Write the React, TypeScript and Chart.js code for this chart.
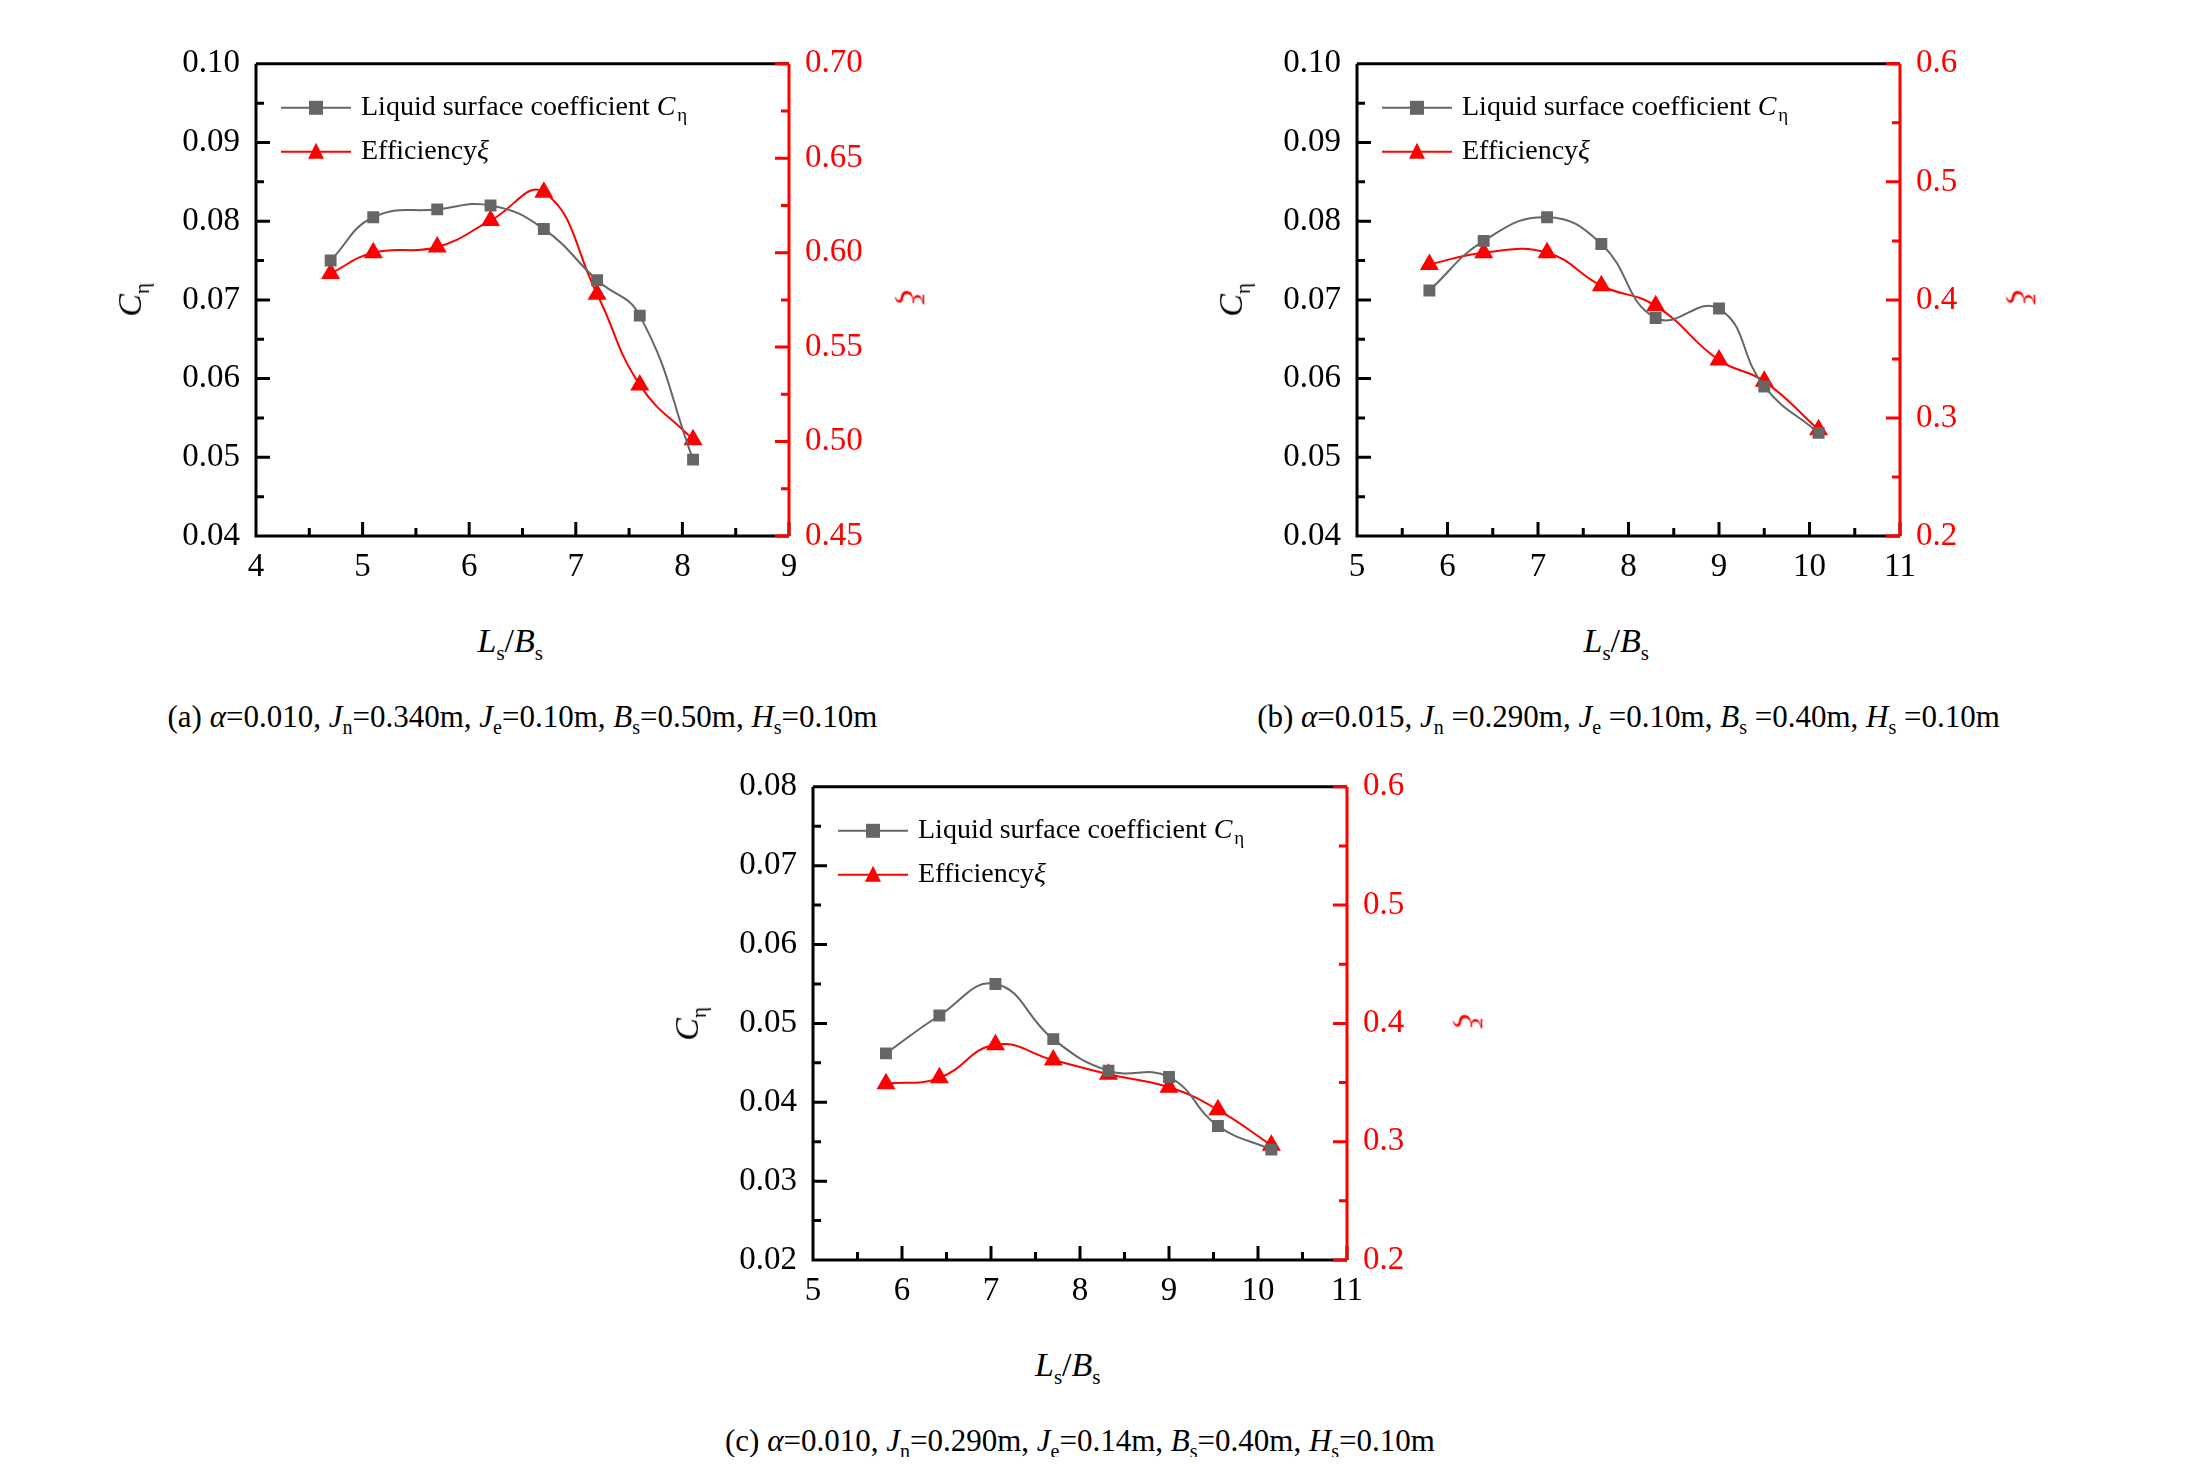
import React, { useEffect, useRef } from "react";
import { Chart, registerables } from "chart.js";
Chart.register(...registerables);

const xA = [4.7, 5.1, 5.7, 6.2, 6.7, 7.2, 7.6, 8.1];
const cA = [0.075, 0.0805, 0.0815, 0.082, 0.079, 0.0725, 0.068, 0.0497];
const eA = [0.589, 0.6, 0.603, 0.617, 0.632, 0.578, 0.53, 0.501];
const xB = [5.8, 6.4, 7.1, 7.7, 8.3, 9.0, 9.5, 10.1];
const cB = [0.0712, 0.0775, 0.0805, 0.0771, 0.0677, 0.0689, 0.059, 0.0531];
const eB = [0.43, 0.44, 0.44, 0.412, 0.395, 0.349, 0.331, 0.29];
const xC = [5.82, 6.42, 7.05, 7.7, 8.32, 9.0, 9.55, 10.15];
const cC = [0.0462, 0.051, 0.055, 0.048, 0.044, 0.0432, 0.037, 0.034];
const eC = [0.349, 0.354, 0.382, 0.369, 0.357, 0.346, 0.327, 0.297];

const FONT = "Liberation Serif";
const PADL = 130, PADR = 130, PADT = 24, PADB = 70;

type P = {
  x: number[]; c: number[]; e: number[];
  xr: [number, number]; cr: [number, number, number]; er: [number, number, number];
  left: number; top: number; w: number; h: number; cdec: number; edec: number;
};

const ticksPlugin = {
  id: "inticks",
  afterDraw(chart: any, _a: any, o: any) {
    const ctx = chart.ctx; const ca = chart.chartArea;
    const sx = chart.scales.x, sy = chart.scales.y, sy1 = chart.scales.y1;
    ctx.save();
    ctx.lineWidth = 3;
    ctx.strokeStyle = "#000";
    ctx.beginPath();
    ctx.moveTo(ca.left, ca.top); ctx.lineTo(ca.right, ca.top);
    ctx.moveTo(ca.left, ca.top); ctx.lineTo(ca.left, ca.bottom); ctx.lineTo(ca.right, ca.bottom);
    for (let v = o.xr[0]; v <= o.xr[1] + 1e-9; v += 0.5) {
      const px = sx.getPixelForValue(v);
      const L = Math.abs(v - Math.round(v)) < 1e-6 ? 14 : 8;
      ctx.moveTo(px, ca.bottom); ctx.lineTo(px, ca.bottom - L);
    }
    const cs = o.cr[2] / 2;
    for (let v = o.cr[0]; v <= o.cr[1] + 1e-9; v += cs) {
      const py = sy.getPixelForValue(v);
      const k = Math.round((v - o.cr[0]) / cs);
      const L = k % 2 === 0 ? 14 : 8;
      ctx.moveTo(ca.left, py); ctx.lineTo(ca.left + L, py);
    }
    ctx.stroke();
    ctx.strokeStyle = "#ff0000";
    ctx.beginPath();
    ctx.moveTo(ca.right, ca.top); ctx.lineTo(ca.right, ca.bottom);
    const es = o.er[2] / 2;
    for (let v = o.er[0]; v <= o.er[1] + 1e-9; v += es) {
      const py = sy1.getPixelForValue(v);
      const k = Math.round((v - o.er[0]) / es);
      const L = k % 2 === 0 ? 14 : 8;
      ctx.moveTo(ca.right, py); ctx.lineTo(ca.right - L, py);
    }
    ctx.stroke();
    const lx = ca.left + 25, ly1 = ca.top + 44, ly2 = ca.top + 88;
    ctx.lineWidth = 2;
    ctx.strokeStyle = "#666"; ctx.beginPath(); ctx.moveTo(lx, ly1); ctx.lineTo(lx + 70, ly1); ctx.stroke();
    ctx.fillStyle = "#666"; ctx.fillRect(lx + 28, ly1 - 7, 14, 14);
    ctx.strokeStyle = "#ff0000"; ctx.beginPath(); ctx.moveTo(lx, ly2); ctx.lineTo(lx + 70, ly2); ctx.stroke();
    ctx.fillStyle = "#ff0000"; ctx.beginPath();
    ctx.moveTo(lx + 35, ly2 - 9); ctx.lineTo(lx + 43, ly2 + 7); ctx.lineTo(lx + 27, ly2 + 7); ctx.closePath(); ctx.fill();
    ctx.fillStyle = "#000"; ctx.textBaseline = "middle";
    ctx.font = `28px ${FONT}`;
    const t1 = "Liquid surface coefficient ";
    ctx.fillText(t1, lx + 80, ly1);
    const w1 = ctx.measureText(t1).width;
    ctx.font = `italic 28px ${FONT}`;
    ctx.fillText("C", lx + 80 + w1, ly1);
    const w2 = ctx.measureText("C").width;
    ctx.font = `19px ${FONT}`;
    ctx.fillText("η", lx + 82 + w1 + w2, ly1 + 8);
    ctx.font = `28px ${FONT}`;
    ctx.fillText("Efficiency", lx + 80, ly2);
    const w3 = ctx.measureText("Efficiency").width;
    ctx.font = `italic 28px ${FONT}`;
    ctx.fillText("ξ", lx + 80 + w3, ly2);
    ctx.restore();
  },
};

function Panel({ p }: { p: P }) {
  const ref = useRef<HTMLCanvasElement>(null);
  useEffect(() => {
    const ch = new Chart(ref.current!, {
      type: "line",
      data: {
        datasets: [
          {
            data: p.x.map((v, i) => ({ x: v, y: p.c[i] })), yAxisID: "y",
            borderColor: "#666", backgroundColor: "#666", borderWidth: 2,
            pointStyle: "rect", pointRadius: 7, tension: 0.45,
          },
          {
            data: p.x.map((v, i) => ({ x: v, y: p.e[i] })), yAxisID: "y1",
            borderColor: "#ff0000", backgroundColor: "#ff0000", borderWidth: 2,
            pointStyle: "triangle", pointRadius: 9, tension: 0.45,
          },
        ],
      },
      options: {
        animation: false, responsive: false, maintainAspectRatio: false,
        layout: { padding: { top: PADT, left: 0, right: 0, bottom: 0 } },
        plugins: { legend: { display: false }, tooltip: { enabled: false }, inticks: p } as any,
        scales: {
          x: {
            type: "linear", min: p.xr[0], max: p.xr[1],
            grid: { display: false }, border: { display: false },
            ticks: { stepSize: 1, color: "#000", font: { family: FONT, size: 33 }, padding: 4 },
            afterFit: (s: any) => { s.height = PADB; },
          },
          y: {
            position: "left", min: p.cr[0], max: p.cr[1],
            grid: { display: false }, border: { display: false },
            ticks: { stepSize: p.cr[2], color: "#000", font: { family: FONT, size: 33 }, padding: 8,
              callback: (v: any) => Number(v).toFixed(p.cdec) },
            afterFit: (s: any) => { s.width = PADL; },
          },
          y1: {
            position: "right", min: p.er[0], max: p.er[1],
            grid: { display: false }, border: { display: false },
            ticks: { stepSize: p.er[2], color: "#ff0000", font: { family: FONT, size: 33 }, padding: 8,
              callback: (v: any) => Number(v).toFixed(p.edec) },
            afterFit: (s: any) => { s.width = PADR; },
          },
        },
      },
      plugins: [ticksPlugin],
    });
    return () => ch.destroy();
  }, []);
  return (
    <canvas ref={ref} width={p.w + PADL + PADR} height={p.h + PADT + PADB}
      style={{ position: "absolute", left: p.left - PADL, top: p.top - PADT,
        width: p.w + PADL + PADR, height: p.h + PADT + PADB }} />
  );
}

const txt: React.CSSProperties = { position: "absolute", fontFamily: "'Liberation Serif', serif", fontSize: 31, color: "#000", whiteSpace: "nowrap", lineHeight: 1 };

function Labels({ p, caption }: { p: P; caption: React.ReactNode }) {
  const cx = p.left + p.w / 2;
  return (
    <>
      <div style={{ ...txt, left: p.left - 140, top: p.top + p.h / 2 - 18, transform: "rotate(-90deg)", fontSize: 34 }}>
        <i>C</i><sub style={{ fontSize: 21 }}>η</sub>
      </div>
      <div style={{ ...txt, left: p.left + p.w + 115, top: p.top + p.h / 2 - 18, transform: "rotate(90deg)", color: "#ff0000", fontSize: 34 }}>
        <i>ξ</i>
      </div>
      <div style={{ ...txt, left: cx - 45, top: p.top + p.h + 88, fontSize: 34 }}>
        <i>L</i><sub style={{ fontSize: 21 }}>s</sub>/<i>B</i><sub style={{ fontSize: 21 }}>s</sub>
      </div>
      <div style={{ ...txt, left: cx, top: p.top + p.h + 165, transform: "translateX(-50%)" }}>{caption}</div>
    </>
  );
}

const s = (t: string) => <sub style={{ fontSize: 20 }}>{t}</sub>;

const pA: P = { x: xA, c: cA, e: eA, xr: [4, 9], cr: [0.04, 0.1, 0.01], er: [0.45, 0.7, 0.05], left: 256, top: 60, w: 533, h: 476, cdec: 2, edec: 2 };
const pB: P = { x: xB, c: cB, e: eB, xr: [5, 11], cr: [0.04, 0.1, 0.01], er: [0.2, 0.6, 0.1], left: 1357, top: 60, w: 543, h: 476, cdec: 2, edec: 1 };
const pC: P = { x: xC, c: cC, e: eC, xr: [5, 11], cr: [0.02, 0.08, 0.01], er: [0.2, 0.6, 0.1], left: 813, top: 783, w: 534, h: 477, cdec: 2, edec: 1 };

export default function App() {
  return (
    <div style={{ position: "relative", margin: -8, width: 2203, height: 1465, background: "#fff", overflow: "hidden" }}>
      <Panel p={pA} /><Panel p={pB} /><Panel p={pC} />
      <Labels p={pA} caption={<>(a) <i>α</i>=0.010, <i>J</i>{s("n")}=0.340m, <i>J</i>{s("e")}=0.10m, <i>B</i>{s("s")}=0.50m, <i>H</i>{s("s")}=0.10m</>} />
      <Labels p={pB} caption={<>(b) <i>α</i>=0.015, <i>J</i>{s("n")} =0.290m, <i>J</i>{s("e")} =0.10m, <i>B</i>{s("s")} =0.40m, <i>H</i>{s("s")} =0.10m</>} />
      <Labels p={pC} caption={<>(c) <i>α</i>=0.010, <i>J</i>{s("n")}=0.290m, <i>J</i>{s("e")}=0.14m, <i>B</i>{s("s")}=0.40m, <i>H</i>{s("s")}=0.10m</>} />
    </div>
  );
}
